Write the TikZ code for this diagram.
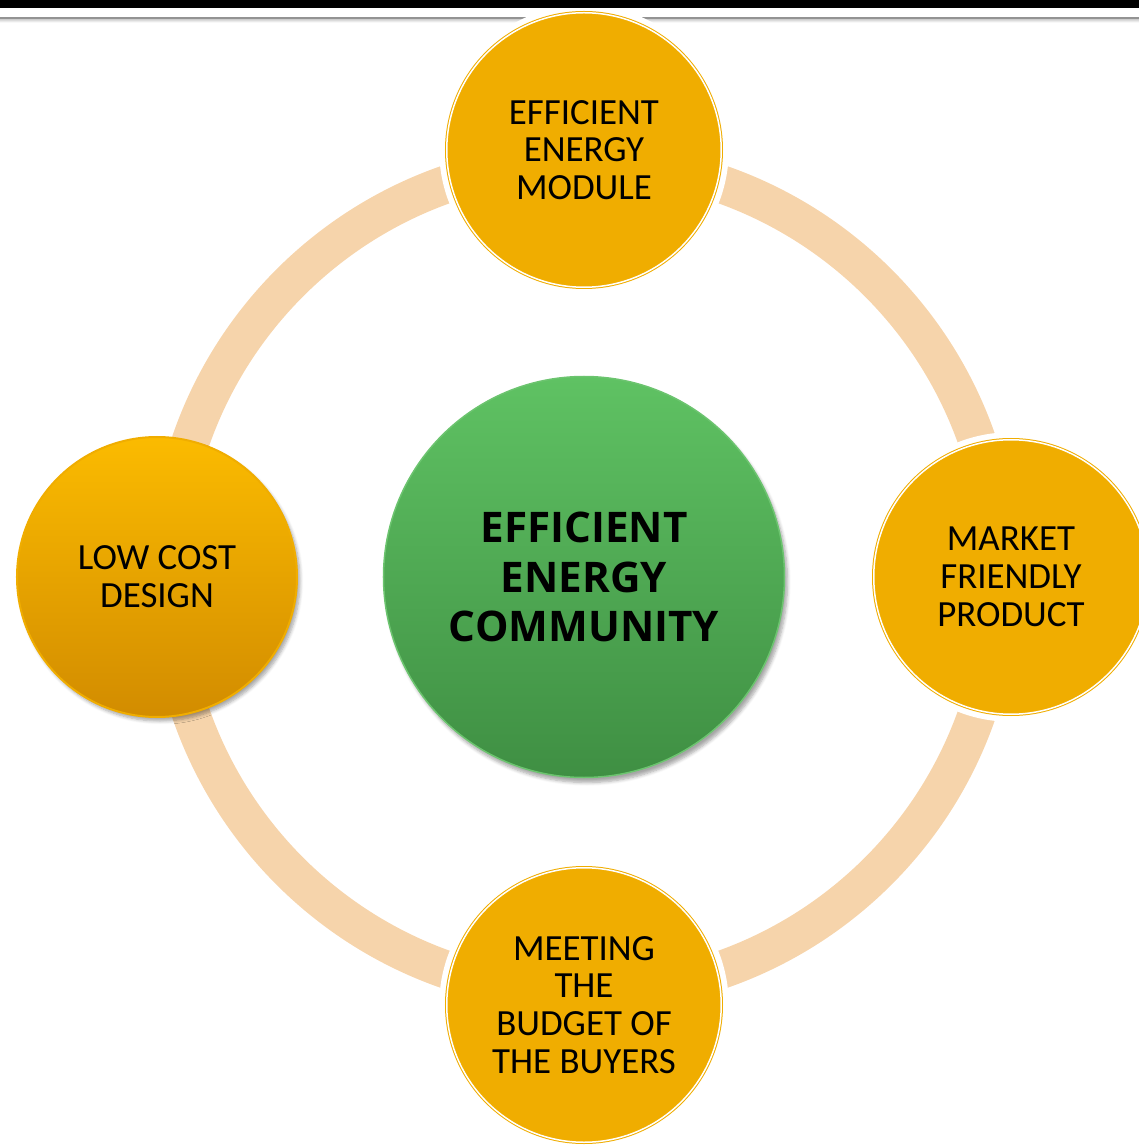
\documentclass[tikz,border=0pt]{standalone}
\usepackage{fontspec}
\setmainfont{Carlito}
\newfontfamily\hubfont{Open Sans}
\usetikzlibrary{shadows.blur}

\definecolor{gold}{HTML}{F0AD00}
\definecolor{ringpeach}{HTML}{F6D4AB}
\definecolor{goldtop}{HTML}{FBBB00}
\definecolor{goldbottom}{HTML}{D28C00}
\definecolor{greentop}{HTML}{5FC263}
\definecolor{greenbottom}{HTML}{3F8F43}
\definecolor{greenrim}{HTML}{6CC46F}

\begin{document}
\begin{tikzpicture}[scale=1]
        % four topics sitting on a ring round the middle one
        \tikzstyle{topic} = [circle,inner sep=0pt,align=center,text=black,font=\fontsize{21}{21.5}\selectfont];
        \tikzstyle{satellite} = [topic,minimum size=5.49cm,fill=gold,draw=gold,double=white,double distance=0.03cm,line width=0.02cm,preaction={draw=white,line width=0.3cm}];
        \tikzstyle{shaded} = [topic,minimum size=5.6cm,top color=goldtop,bottom color=goldbottom,draw=gold,line width=0.04cm,blur shadow={shadow xshift=0.06cm,shadow yshift=-0.08cm,shadow blur steps=6,shadow opacity=35}];
        \tikzstyle{hub} = [circle,inner sep=0pt,align=center,minimum size=8.02cm,top color=greentop,bottom color=greenbottom,draw=greenrim,line width=0.03cm,font=\hubfont\bfseries\fontsize{24}{28.3}\selectfont,blur shadow={shadow xshift=0.06cm,shadow yshift=-0.1cm,shadow blur steps=6,shadow opacity=35}];
        \tikzstyle{ring} = [draw=ringpeach,line width=0.76cm];

        \useasboundingbox (-11.68,-11.38) rectangle (11.10,11.54);

        % rule under the header bar
        \shade[top color=gray!45,bottom color=white] (-11.68,11.17) rectangle (11.10,11.09);
        \draw[gray!85,line width=0.04cm] (-11.68,11.184) -- (11.10,11.184);

        \draw[ring] (0,0) circle (8.32);

        \node[satellite] (module) at (0,8.54) {EFFICIENT\\ENERGY\\MODULE};
        \node[satellite] (market) at (8.54,0) {MARKET\\FRIENDLY\\PRODUCT};
        \node[satellite] (budget) at (0,-8.56) {MEETING\\THE\\BUDGET OF\\THE BUYERS};
        \node[shaded] (lowcost) at (-8.54,0) {LOW COST\\DESIGN};

        \node[hub] (community) at (0,0) {EFFICIENT\\ENERGY\\COMMUNITY};

        \fill[black] (-11.68,11.38) rectangle (11.10,11.54);

\end{tikzpicture}
\end{document}
